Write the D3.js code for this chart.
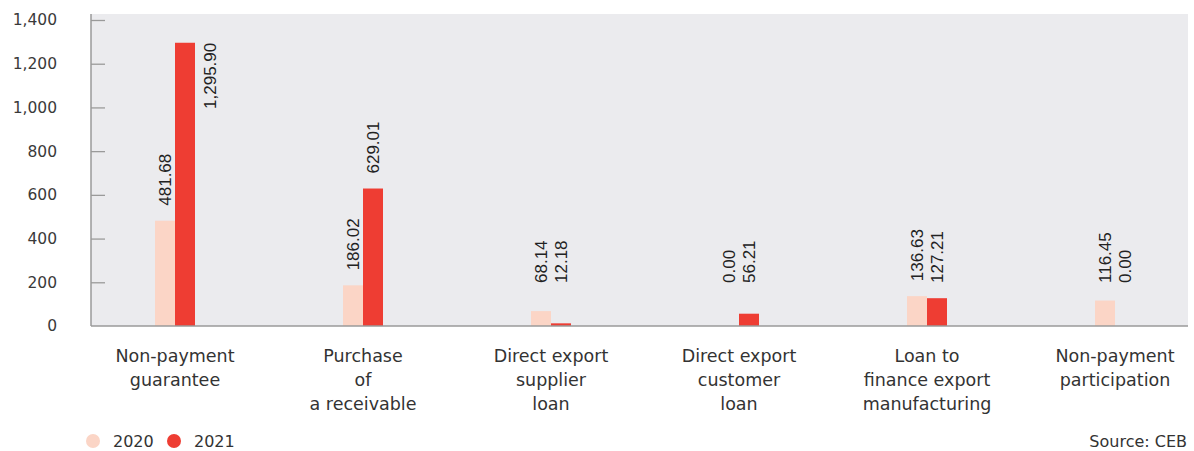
<!DOCTYPE html>
<html>
<head>
<meta charset="utf-8">
<script src="https://cdn.jsdelivr.net/npm/d3@7"></script>
<style>
  html, body { margin: 0; padding: 0; background: #ffffff; }
  svg { display: block; }
</style>
</head>
<body>
<svg id="chart" width="1194" height="451"></svg>
<script>
// Instruments by type, values for 2020 and 2021
const categories = [
  "Non-payment guarantee",
  "Purchase of a receivable",
  "Direct export supplier loan",
  "Direct export customer loan",
  "Loan to finance export manufacturing",
  "Non-payment participation"
];
const categoryLines = [
  ["Non-payment", "guarantee"],
  ["Purchase", "of", "a receivable"],
  ["Direct export", "supplier", "loan"],
  ["Direct export", "customer", "loan"],
  ["Loan to", "finance export", "manufacturing"],
  ["Non-payment", "participation"]
];
const years = ["2020", "2021"];
const values2020 = [481.68, 186.02, 68.14, 0.00, 136.63, 116.45];
const values2021 = [1295.90, 629.01, 12.18, 56.21, 127.21, 0.00];
const yTicks = [0, 200, 400, 600, 800, 1000, 1200, 1400];
const sourceNote = "Source: CEB";

const colors = { "2020": "#fbd5c6", "2021": "#ee3d33" };
const fmt = d3.format(",.2f");

const svg = d3.select("#chart");
const plot = { left: 91, right: 1188, top: 14, bottom: 326 };

const x = d3.scalePoint().domain(categories).range([175, 1115]);
const inner = d3.scaleBand().domain(years).range([-20, 20]);
const y = d3.scaleLinear().domain([0, 1400]).range([326, 20]);

// plot background
svg.append("rect")
  .attr("x", plot.left).attr("y", plot.top)
  .attr("width", plot.right - plot.left)
  .attr("height", plot.bottom - plot.top)
  .attr("fill", "#ebebee");

// y axis with inward ticks
const yAxis = svg.append("g")
  .attr("transform", `translate(${plot.left},0)`)
  .call(d3.axisLeft(y).tickValues(yTicks).tickFormat(d3.format(",")).tickSize(-14).tickPadding(34));
yAxis.select(".domain").remove();
yAxis.selectAll(".tick line").attr("stroke", "#9a9a9a").attr("stroke-width", 1.3)
  .filter(d => d === 0).remove();
yAxis.selectAll(".tick text")
  .attr("fill", "#3a3a3a")
  .style("font-family", "'DejaVu Sans', sans-serif")
  .style("font-size", "15.5px");

// rows: one entry per bar
const rows = [];
categories.forEach((c, i) => {
  rows.push({ cat: c, year: "2020", value: values2020[i] });
  rows.push({ cat: c, year: "2021", value: values2021[i] });
});

// bars
svg.append("g").selectAll("rect")
  .data(rows)
  .join("rect")
  .attr("x", d => x(d.cat) + inner(d.year))
  .attr("width", inner.bandwidth())
  .attr("y", d => y(d.value))
  .attr("height", d => y(0) - y(d.value))
  .attr("fill", d => colors[d.year]);

// axis lines
svg.append("line")
  .attr("x1", plot.left).attr("x2", plot.left)
  .attr("y1", plot.top).attr("y2", plot.bottom)
  .attr("stroke", "#9a9a9a").attr("stroke-width", 1.5);
svg.append("line")
  .attr("x1", plot.left).attr("x2", plot.right)
  .attr("y1", plot.bottom).attr("y2", plot.bottom)
  .attr("stroke", "#9a9a9a").attr("stroke-width", 1.5);

// value labels, rotated; tall bars get their label beside the bar
const labelCap = 283;
const labelGap = 15;
const labels = svg.append("g")
  .style("font-family", "'Liberation Sans', Arial, sans-serif")
  .style("font-size", "17px")
  .attr("fill", "#222");
rows.forEach(d => {
  const t = labels.append("text").text(fmt(d.value)).attr("dy", "0.35em");
  const cx = x(d.cat) + inner(d.year) + inner.bandwidth() / 2;
  const bottom = Math.min(y(d.value) - labelGap, labelCap);
  const len = t.node().getComputedTextLength();
  if (bottom - len < plot.top) {
    const bx = x(d.cat) + inner(d.year) + inner.bandwidth() + 15;
    t.attr("text-anchor", "end")
      .attr("transform", `translate(${bx},${y(d.value)}) rotate(-90)`);
  } else {
    t.attr("text-anchor", "start")
      .attr("transform", `translate(${cx},${bottom}) rotate(-90)`);
  }
});

// category labels
const catG = svg.append("g")
  .style("font-family", "'DejaVu Sans', sans-serif")
  .style("font-size", "17.5px")
  .attr("fill", "#333")
  .attr("text-anchor", "middle");
categories.forEach((c, i) => {
  const t = catG.append("text").attr("x", x(c)).attr("y", 362);
  categoryLines[i].forEach((line, j) => {
    t.append("tspan").attr("x", x(c)).attr("y", 362 + j * 24).text(line);
  });
});

// legend
const legend = svg.append("g")
  .style("font-family", "'DejaVu Sans', sans-serif")
  .style("font-size", "16px")
  .attr("fill", "#333");
const legendX = { "2020": 93, "2021": 174 };
years.forEach(yr => {
  legend.append("circle").attr("cx", legendX[yr]).attr("cy", 441).attr("r", 7).attr("fill", colors[yr]);
  legend.append("text").attr("x", legendX[yr] + 20).attr("y", 447).text(yr);
});

// source note
svg.append("text")
  .attr("x", 1187).attr("y", 447)
  .attr("text-anchor", "end")
  .style("font-family", "'DejaVu Sans', sans-serif")
  .style("font-size", "16px")
  .attr("fill", "#333")
  .text(sourceNote);
</script>
</body>
</html>
